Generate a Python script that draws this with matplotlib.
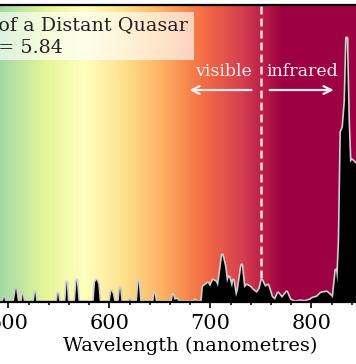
import numpy as np
import matplotlib
matplotlib.use("Agg")
import matplotlib.pyplot as plt
from matplotlib.patches import Rectangle
from matplotlib.ticker import MultipleLocator

# ---- data ----
wavelength_nm = [
    480, 494.5, 495.8, 497, 505.5, 507.6, 509.5, 513.3, 514.3, 515.3,
    525.3, 526.5, 527.7, 548, 549.2, 550.4, 556.6, 557.8, 559, 566,
    567.7, 569.5, 584.5, 586, 587.5, 589, 590.5, 600.5, 602, 603.5,
    605, 609.2, 610.6, 612, 619.8, 620.5, 621.2, 627.4, 629, 630.6,
    643.7, 644.8, 646, 661.8, 663, 664.5, 667, 669, 684, 684.9,
    686, 691.5, 692.8, 694.8, 697.7, 699.7, 702.7, 705.6, 707.6, 709.6,
    711.9, 714.6, 716.5, 718.5, 721.5, 722.8, 725.4, 727.4, 731.1, 733.4,
    736.3, 739.3, 742.3, 746.2, 749.2, 750.9, 754.2, 757.1, 760.8, 764.1,
    767.1, 771.0, 775.7, 779.0, 783.9, 788.9, 793.8, 798.7, 801.7, 805.6,
    809.6, 815.2, 818.5, 821.5, 824.4, 825.9, 827.7, 829.4, 831.4, 833.4,
    835.0, 836.8, 838.3, 840.3, 842.3, 844.3, 848, 852,
]
flux = [
    0, 0, 0.19, 0, 0, 0.53, 0, 0, 0.3, 0,
    0, 0.38, 0, 0, 0.34, 0, 0, 0.76, 0, 0,
    0.83, 0, 0, 0.76, 0.83, 0.68, 0, 0, 0.42, 0.3,
    0, 0, 0.53, 0, 0, 0.11, 0, 0, 0.8, 0,
    0, 0.34, 0, 0, 0.27, 0.08, 0.11, 0, 0, 0.08,
    0, 0, 0.57, 0.64, 0.72, 0.57, 0.83, 0.76, 0.57, 1.10,
    1.78, 1.33, 0.72, 0.95, 0.53, 0.83, 0.19, 0.45, 1.40, 0.53,
    0.64, 0.57, 0.45, 0.34, 0.53, 0.83, 0.57, 0.64, 0.19, 0.08,
    0.34, 0.15, 0.38, 0.08, 0.0, 0.04, 0.02, 0.08, 0.15, 0.19,
    0.34, 0.38, 0.27, 0.15, 1.21, 0.72, 2.35, 6.44, 6.63, 7.58,
    10.0, 6.82, 5.27, 5.38, 5.30, 5.23, 5.1, 5.0,
]
tick_values = [500, 600, 700, 800]
title_line1 = "Spectrum of a Distant Quasar"
title_line2 = "z = 5.84"
boundary_nm = 750

plt.rcParams['font.family'] = ['DejaVu Serif']

fig = plt.figure(figsize=(3.56, 3.64), dpi=100)
ax = fig.add_axes([-0.0334, 0.1703, 1.0497, 0.8159])

xmin, xmax, ymax = 480, 850, 11.25
grad = np.linspace(xmin, xmax, 600)[None, :]
ax.imshow(grad, extent=[xmin, xmax, 0, ymax], cmap='Spectral_r', vmin=380, vmax=772,
          aspect='auto', zorder=0, interpolation='bicubic')

ax.axvline(boundary_nm, color='white', ls=(0, (3.2, 1.6)), lw=1.8, alpha=0.85, zorder=1)

ax.plot(wavelength_nm, flux, color='#cfcfcf', lw=2.4, zorder=2, solid_joinstyle='round')
ax.fill_between(wavelength_nm, flux, 0, color='black', lw=0, zorder=3)

ax.set_xlim(xmin, xmax)
ax.set_ylim(0, ymax)

# title box
ax.add_patch(Rectangle((470, 9.17), 683.9 - 470, 10.98 - 9.17, facecolor='white',
                       alpha=0.65, edgecolor='none', zorder=4))
ax.text(678.0, 10.27, title_line1, ha='right', va='baseline', fontsize=13.8,
        color='#222222', zorder=5)
ax.text(554.2, 9.42, title_line2, ha='right', va='baseline', fontsize=13.8,
        color='#222222', zorder=5)

# visible / infrared annotations
tc = '#fbeef3'
ax.text(741.5, 8.55, 'visible', ha='right', va='baseline', fontsize=12.5, color=tc, zorder=5)
ax.text(756.0, 8.55, 'infrared', ha='left', va='baseline', fontsize=12.5, color=tc, zorder=5)
ax.annotate('', xy=(676.5, 8.03), xytext=(743.5, 8.03),
            arrowprops=dict(arrowstyle='->', color=tc, lw=1.6, mutation_scale=14), zorder=5)
ax.annotate('', xy=(825, 8.03), xytext=(756, 8.03),
            arrowprops=dict(arrowstyle='->', color=tc, lw=1.6, mutation_scale=14), zorder=5)

ax.set_yticks([])
ax.set_xticks(tick_values)
ax.xaxis.set_minor_locator(MultipleLocator(20))
ax.tick_params(axis='x', which='major', direction='out', length=4.5, width=1.2,
               labelsize=15, pad=4)
ax.tick_params(axis='x', which='minor', direction='out', length=2.3, width=1.1)
ax.set_xlabel('Wavelength (nanometres)', fontsize=14.0)
ax.xaxis.set_label_coords(0.540, -0.118)
for s in ax.spines.values():
    s.set_linewidth(1.6)

fig.savefig('out.png', dpi=100)
